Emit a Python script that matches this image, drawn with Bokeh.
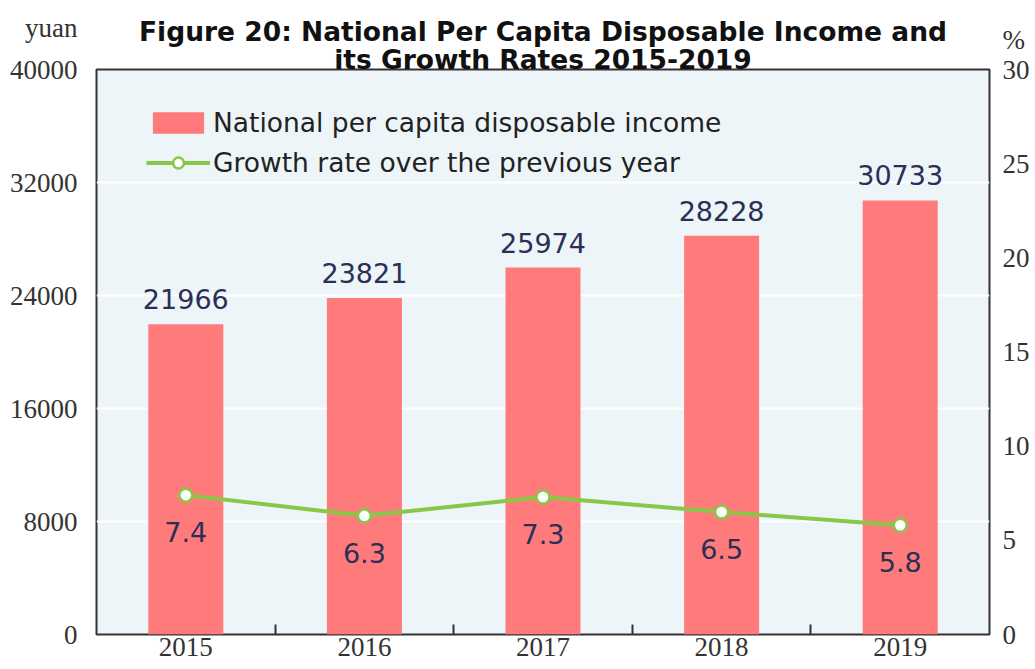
import numpy as np
from bokeh.plotting import figure
from bokeh.models import (ColumnDataSource, Range1d, LinearAxis, FixedTicker,
                          Title, Legend, LegendItem)
from bokeh.core.properties import value
from bokeh.embed import file_html
from bokeh.resources import INLINE

# ---- data ----
years = ["2015", "2016", "2017", "2018", "2019"]
income = [21966, 23821, 25974, 28228, 30733]
growth = [7.4, 6.3, 7.3, 6.5, 5.8]
income_ticks = [0, 8000, 16000, 24000, 32000, 40000]
growth_ticks = [0, 5, 10, 15, 20, 25, 30]
title_lines = ["Figure 20: National Per Capita Disposable Income and",
               "its Growth Rates 2015-2019"]
left_unit = "yuan"
right_unit = "%"

xpos = [i + 0.5 for i in range(len(years))]
boundaries = [i for i in range(1, len(years))]

src = ColumnDataSource(dict(
    x=xpos, year=years, income=income, growth=growth,
    income_label=[str(v) for v in income],
    growth_label=[f"{g:.1f}" for g in growth],
))

BAR = "#FF7B7B"
GREEN = "#88C846"
NAVY = "#2B2F55"
AXTXT = "#333333"
SERIF = "Liberation Serif"
SANS = "DejaVu Sans"

p = figure(width=1032, height=668, output_backend="svg", toolbar_location=None,
           x_range=Range1d(0, len(years)), y_range=Range1d(0, 40000),
           min_border_left=96, min_border_right=42, min_border_top=69,
           min_border_bottom=34)
p.extra_y_ranges = {"pct": Range1d(0, 30)}
p.background_fill_color = "#EDF5F8"
p.border_fill_color = "white"
p.outline_line_color = "#333333"
p.outline_line_width = 2

# titles (line 2 closest to the frame)
for line, standoff in zip(reversed(title_lines), [-11, 2]):
    p.add_layout(Title(text=line, align="center", text_font=SANS,
                       text_font_style="bold", text_font_size="26.5px",
                       text_color="#111111", standoff=standoff, offset=0), "above")

# grid
p.xgrid.visible = False
p.ygrid.ticker = FixedTicker(ticks=income_ticks)
p.ygrid.grid_line_color = "white"
p.ygrid.grid_line_width = 2

# x axis
xa = p.xaxis[0]
xa.ticker = FixedTicker(ticks=xpos, minor_ticks=boundaries)
xa.major_label_overrides = {x: y for x, y in zip(xpos, years)}
xa.axis_line_color = None
xa.major_tick_line_color = None
xa.major_tick_in = 0
xa.major_tick_out = 0
xa.minor_tick_line_color = "#333333"
xa.minor_tick_line_width = 2
xa.minor_tick_in = 10
xa.minor_tick_out = 0
xa.major_label_standoff = 3
xa.major_label_text_font = SERIF
xa.major_label_text_font_size = "27px"
xa.major_label_text_color = AXTXT

# left axis (unit name shown above the top tick label)
ya = p.yaxis[0]
ya.ticker = FixedTicker(ticks=income_ticks)
ya.major_label_overrides = {income_ticks[-1]: f"{left_unit}\n{income_ticks[-1]}\n "}
ya.axis_line_color = None
ya.major_tick_line_color = None
ya.minor_tick_line_color = None
ya.major_tick_in = 0
ya.major_tick_out = 0
ya.major_label_standoff = 19
ya.major_label_text_font = SERIF
ya.major_label_text_font_size = "27px"
ya.major_label_text_line_height = 1.4
ya.major_label_text_color = AXTXT

# right axis
ra = LinearAxis(y_range_name="pct", ticker=FixedTicker(ticks=growth_ticks))
ra.major_label_overrides = {growth_ticks[-1]: f"{right_unit}\n{growth_ticks[-1]}\n "}
ra.axis_line_color = None
ra.major_tick_line_color = None
ra.minor_tick_line_color = None
ra.major_tick_in = 0
ra.major_tick_out = 0
ra.major_label_standoff = 13
ra.major_label_text_font = SERIF
ra.major_label_text_font_size = "27px"
ra.major_label_text_line_height = 1.0
ra.major_label_text_color = AXTXT
p.add_layout(ra, "right")

# bars
r_bar = p.vbar(x="x", top="income", width=0.42, source=src,
               fill_color=BAR, line_color=None)
p.text(x="x", y="income", text="income_label", source=src,
       text_align="center", text_baseline="middle", y_offset=-25,
       text_font=value(SANS), text_font_size="27px", text_color=NAVY)

# growth line
r_line = p.line(x="x", y="growth", source=src, y_range_name="pct",
                line_color=GREEN, line_width=4)
r_pts = p.scatter(x="x", y="growth", source=src, y_range_name="pct",
                  size=13, fill_color="white", line_color=GREEN, line_width=2.5)
p.text(x="x", y="growth", text="growth_label", source=src, y_range_name="pct",
       text_align="center", text_baseline="middle", y_offset=37,
       text_font=value(SANS), text_font_size="27px", text_color=NAVY)

# legend
legend = Legend(items=[
    LegendItem(label="National per capita disposable income", renderers=[r_bar]),
    LegendItem(label="Growth rate over the previous year", renderers=[r_line, r_pts]),
], location=(50, 456), padding=0, margin=0, spacing=9,
    glyph_width=64, glyph_height=27, label_standoff=3,
    background_fill_alpha=0, border_line_color=None,
    label_text_font=SANS, label_text_font_size="26.5px", label_text_color="#222222")
p.add_layout(legend)

open("out.html", "w").write(file_html(p, INLINE))
